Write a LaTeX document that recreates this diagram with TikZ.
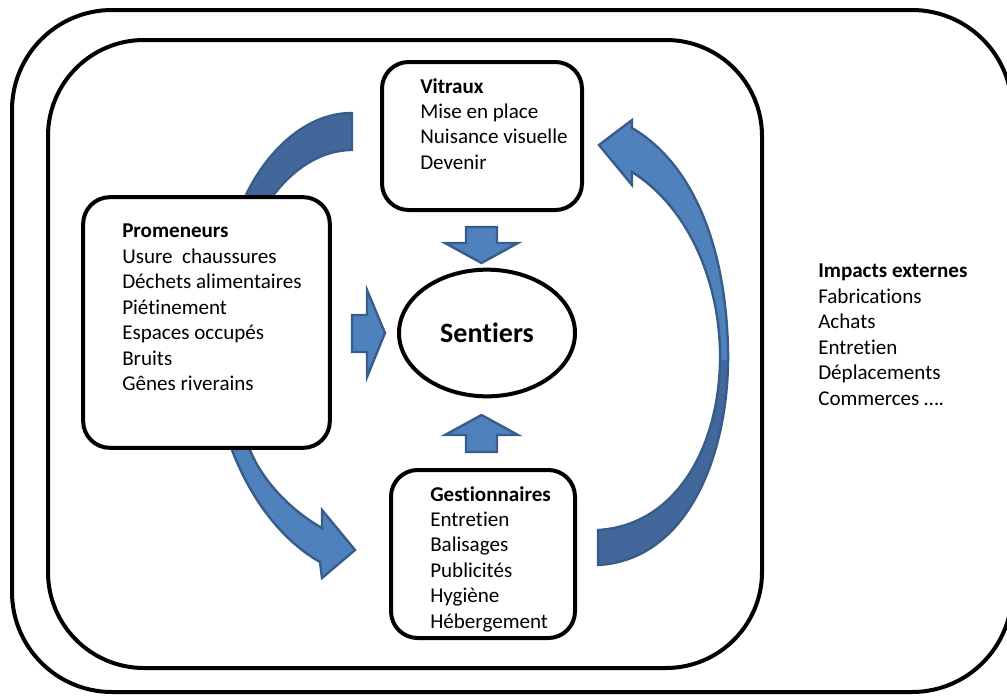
\documentclass[tikz,border=0pt]{standalone}
\usepackage{fontspec}
\setmainfont{Carlito}[Ligatures=NoCommon]
\usetikzlibrary{shapes,arrows}
\definecolor{arrowFill}{HTML}{4F81BD}
\definecolor{arrowDark}{HTML}{41679B}
\definecolor{arrowLine}{HTML}{385D8A}
\tikzset{%
	box/.style        = {draw, line width=3pt, rectangle, rounded corners=20pt, fill=white},
	oval/.style       = {draw, line width=3pt, ellipse, fill=white,
		font=\bfseries\fontsize{21}{25}\selectfont}, % Sentiers
	txt/.style        = {align=left, inner sep=0pt, anchor=north west,
		font=\fontsize{15.8}{19.1}\selectfont},
	frame/.style      = {line width=3pt, rounded corners=75pt},
	blockarrow/.style = {fill=arrowFill, draw=arrowLine, line width=1.8pt},
	curvedline/.style = {draw=arrowLine, line width=1.8pt} % curved arrow outline
}

\begin{document}
\begin{tikzpicture}[x=0.75pt,y=-0.75pt]
	\useasboundingbox (0,0) rectangle (1007,697);
	\draw[frame] (12,10) rectangle (1012,692);
	\draw[frame, rounded corners=72pt] (48,40) rectangle (762,668);
	
	% left curved arrow
	\path[save path=\leftBend] (352,113) .. controls (300,113) and (262,160) .. (245,197)
		.. controls (200,290) and (205,400) .. (232,450)
		.. controls (255,510) and (290,545) .. (320,562)
		-- (322,578) -- (355,550) -- (322,510) -- (322,528)
		.. controls (290,510) and (262,480) .. (250,450)
		.. controls (235,400) and (235,290) .. (272,197)
		.. controls (292,170) and (320,150) .. (352,150) -- cycle;
	\fill[arrowFill, use path=\leftBend];
	\begin{scope}
		\clip (0,0) rectangle (1007,300);
		\fill[arrowDark, use path=\leftBend];
	\end{scope}
	\draw[curvedline, use path=\leftBend];
	
	% right curved arrow
	\path[save path=\rightBend] (598,530) -- (598,565)
		.. controls (690,560) and (730,450) .. (728,350)
		.. controls (726,250) and (695,165) .. (632,128)
		-- (632,120) -- (599,145) -- (632,185) -- (632,172)
		.. controls (685,205) and (718,275) .. (720,350)
		.. controls (722,440) and (680,525) .. (598,530) -- cycle;
	\fill[arrowFill, use path=\rightBend];
	\begin{scope}
		\clip (0,360) rectangle (1007,697);
		\fill[arrowDark, use path=\rightBend];
	\end{scope}
	\draw[curvedline, use path=\rightBend];
	
	\node[box, minimum width=150pt, minimum height=111pt] (vitraux)       at (482,136)     {};
	\node[box, minimum width=185pt, minimum height=188pt] (promeneurs)    at (206.5,322.5) {};
	\node[box, minimum width=138pt, minimum height=126pt] (gestionnaires) at (483,554)     {};
	\node[oval, minimum width=132pt, minimum height=95pt] (sentiers)      at (487,333)     {Sentiers};
	
	\draw[blockarrow] (466,227) -- (497,227) -- (497,243) -- (518,243) -- (481.5,263)
		-- (445,243) -- (466,243) -- cycle;
	\draw[blockarrow] (352,315) -- (367,315) -- (367,290) -- (385,333) -- (367,377)
		-- (367,352) -- (352,352) -- cycle;
	\draw[blockarrow] (466,452) -- (497,452) -- (497,435) -- (518,435) -- (481.5,415)
		-- (445,435) -- (466,435) -- cycle;
	
	\node[txt] (vitrauxText) at (420,78)
		{\textbf{Vitraux}\\Mise en place\\Nuisance visuelle\\Devenir};
	\node[txt] (promeneursText) at (122,224)
		{\textbf{Promeneurs}\\Usure\ \ chaussures\\Déchets alimentaires\\Piétinement\\Espaces occupés\\Bruits\\Gênes riverains};
	\node[txt] (gestionnairesText) at (430,486)
		{\textbf{Gestionnaires}\\Entretien\\Balisages\\Publicités\\Hygiène\\Hébergement};
	\node[txt] (impactsText) at (818,264)
		{\textbf{Impacts externes}\\Fabrications\\Achats\\Entretien\\Déplacements\\Commerces ….};
\end{tikzpicture}
\end{document}
